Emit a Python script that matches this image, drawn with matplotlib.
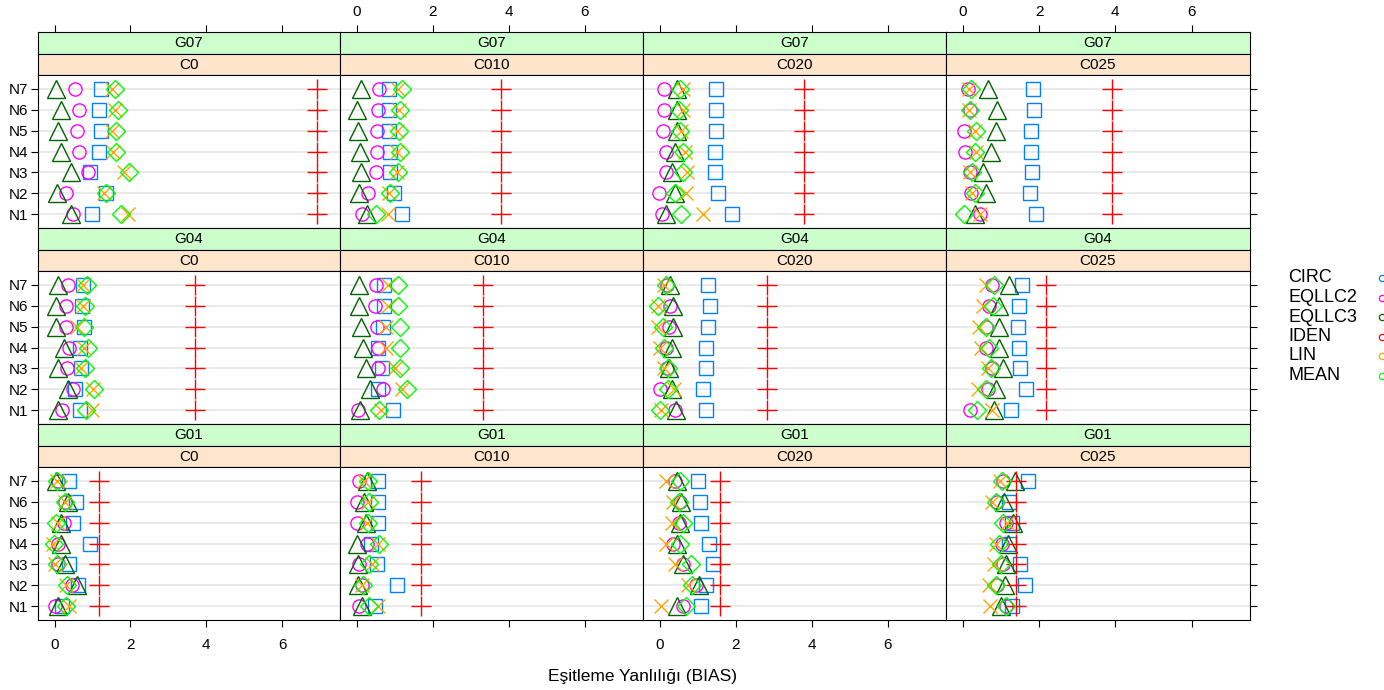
import matplotlib
matplotlib.use("Agg")
import matplotlib.pyplot as plt

plt.rcParams['font.family'] = ['Liberation Sans', 'DejaVu Sans']

# ---------------- data ----------------
n_levels = ["N1", "N2", "N3", "N4", "N5", "N6", "N7"]
c_levels = ["C0", "C010", "C020", "C025"]
g_levels = ["G07", "G04", "G01"]          # top row to bottom row
series = ["CIRC", "EQLLC2", "EQLLC3", "IDEN", "LIN", "MEAN"]
x_ticks = [0, 2, 4, 6]
x_label = "Eşitleme Yanlılığı (BIAS)"

# each list: rows = C0, C010, C020, C025 ; values for N1..N7
CIRC_G07 = [[0.98, 1.36, 0.92, 1.17, 1.23, 1.17, 1.23],
            [1.18, 0.99, 0.88, 0.88, 0.86, 0.86, 0.85],
            [1.91, 1.54, 1.45, 1.45, 1.47, 1.47, 1.47],
            [1.93, 1.77, 1.82, 1.78, 1.78, 1.87, 1.84]]
EQLLC2_G07 = [[0.48, 0.30, 0.89, 0.64, 0.58, 0.64, 0.54],
              [0.15, 0.29, 0.50, 0.53, 0.53, 0.57, 0.59],
              [0.07, -0.02, 0.16, 0.16, 0.09, 0.11, 0.11],
              [0.46, 0.22, 0.19, 0.07, 0.04, 0.18, 0.13]]
EQLLC3_G07 = [[0.44, 0.07, 0.44, 0.16, 0.10, 0.16, 0.04],
              [0.26, 0.06, 0.11, 0.09, 0.03, 0.00, 0.11],
              [0.16, 0.39, 0.33, 0.39, 0.46, 0.46, 0.46],
              [0.33, 0.60, 0.53, 0.75, 0.88, 0.89, 0.66]]
IDEN_G07 = [6.91, 3.79, 3.80, 3.90]
LIN_G07 = [[1.93, 1.30, 1.82, 1.54, 1.51, 1.58, 1.51],
           [0.83, 0.85, 1.05, 1.05, 1.05, 1.10, 1.08],
           [1.14, 0.70, 0.72, 0.66, 0.57, 0.60, 0.60],
           [0.46, 0.25, 0.18, 0.35, 0.31, 0.16, 0.16]]
MEAN_G07 = [[1.75, 1.36, 1.95, 1.63, 1.61, 1.67, 1.58],
            [0.50, 0.88, 1.08, 1.14, 1.10, 1.14, 1.20],
            [0.57, 0.39, 0.61, 0.60, 0.54, 0.51, 0.54],
            [0.02, 0.31, 0.25, 0.33, 0.35, 0.18, 0.22]]

CIRC_G04 = [[0.66, 0.54, 0.70, 0.66, 0.77, 0.73, 0.75],
            [0.96, 0.55, 0.66, 0.55, 0.70, 0.73, 0.73],
            [1.23, 1.14, 1.21, 1.23, 1.27, 1.33, 1.27],
            [1.27, 1.67, 1.49, 1.47, 1.45, 1.47, 1.54]]
EQLLC2_G04 = [[0.19, 0.48, 0.33, 0.39, 0.31, 0.31, 0.35],
              [0.04, 0.68, 0.57, 0.55, 0.53, 0.48, 0.50],
              [0.39, 0.02, 0.19, 0.16, 0.25, 0.28, 0.19],
              [0.18, 0.66, 0.77, 0.61, 0.61, 0.68, 0.77]]
EQLLC3_G04 = [[0.09, 0.35, 0.10, 0.25, 0.04, 0.04, 0.10],
              [0.09, 0.35, 0.24, 0.17, 0.11, 0.06, 0.06],
              [0.42, 0.31, 0.25, 0.31, 0.35, 0.35, 0.26],
              [0.83, 0.86, 1.05, 0.95, 0.96, 0.96, 1.21]]
IDEN_G04 = [3.71, 3.33, 2.83, 2.19]
LIN_G04 = [[0.98, 1.01, 0.70, 0.77, 0.60, 0.75, 0.75],
           [0.64, 1.18, 1.01, 0.76, 0.76, 0.82, 0.82],
           [0.04, 0.37, 0.10, 0.00, -0.04, -0.04, 0.10],
           [0.77, 0.39, 0.66, 0.48, 0.42, 0.54, 0.61]]
MEAN_G04 = [[0.83, 1.05, 0.81, 0.89, 0.77, 0.79, 0.86],
            [0.59, 1.32, 1.14, 1.14, 1.14, 1.08, 1.08],
            [0.02, 0.22, 0.22, 0.10, 0.09, -0.04, 0.16],
            [0.37, 0.61, 0.75, 0.70, 0.60, 0.79, 0.81]]

CIRC_G01 = [[0.19, 0.61, 0.37, 0.92, 0.48, 0.57, 0.39],
            [0.48, 1.05, 0.53, 0.38, 0.55, 0.55, 0.57],
            [1.08, 1.23, 1.40, 1.30, 1.08, 1.05, 1.01],
            [1.30, 1.62, 1.49, 1.21, 1.30, 1.21, 1.71]]
EQLLC2_G01 = [[0.02, 0.46, 0.10, 0.10, 0.25, 0.28, 0.10],
              [0.06, 0.15, 0.06, 0.26, 0.00, 0.00, 0.06],
              [0.61, 0.95, 0.60, 0.35, 0.51, 0.53, 0.39],
              [1.12, 0.89, 1.05, 1.04, 1.12, 0.89, 1.05]]
EQLLC3_G01 = [[0.10, 0.60, 0.28, 0.16, 0.17, 0.35, 0.04],
              [0.15, 0.04, 0.03, 0.00, 0.24, 0.20, 0.26],
              [0.46, 1.04, 0.61, 0.46, 0.53, 0.57, 0.46],
              [1.01, 1.10, 1.12, 1.18, 1.32, 1.07, 1.36]]
IDEN_G01 = [1.18, 1.69, 1.58, 1.40]
LIN_G01 = [[0.37, 0.31, 0.00, -0.04, 0.10, 0.26, 0.07],
           [0.55, 0.13, 0.41, 0.55, 0.26, 0.29, 0.20],
           [0.04, 0.75, 0.39, 0.17, 0.33, 0.35, 0.17],
           [0.72, 0.68, 0.83, 0.88, 1.16, 0.77, 0.98]]
MEAN_G01 = [[0.31, 0.33, 0.07, -0.02, 0.04, 0.28, 0.07],
            [0.31, 0.17, 0.32, 0.59, 0.29, 0.32, 0.29],
            [0.70, 0.86, 0.83, 0.53, 0.60, 0.51, 0.54],
            [1.14, 0.88, 1.01, 0.95, 1.05, 0.88, 1.04]]

data = {
    "G07": {"CIRC": CIRC_G07, "EQLLC2": EQLLC2_G07, "EQLLC3": EQLLC3_G07,
            "IDEN": IDEN_G07, "LIN": LIN_G07, "MEAN": MEAN_G07},
    "G04": {"CIRC": CIRC_G04, "EQLLC2": EQLLC2_G04, "EQLLC3": EQLLC3_G04,
            "IDEN": IDEN_G04, "LIN": LIN_G04, "MEAN": MEAN_G04},
    "G01": {"CIRC": CIRC_G01, "EQLLC2": EQLLC2_G01, "EQLLC3": EQLLC3_G01,
            "IDEN": IDEN_G01, "LIN": LIN_G01, "MEAN": MEAN_G01},
}

# ---------------- style ----------------
colors = {"CIRC": "#0080ff", "EQLLC2": "#ff00ff", "EQLLC3": "#006400",
          "IDEN": "#ff0000", "LIN": "#ffa500", "MEAN": "#00ff00"}
markers = {"CIRC": ("s", 10), "EQLLC2": ("o", 9.5), "EQLLC3": ("^", 13),
           "IDEN": ("+", 15), "LIN": ("x", 10), "MEAN": ("D", 9.5)}
strip_colors = {"outer": "#ccffcc", "inner": "#ffe5cc"}

W, H = 1384, 690
fig = plt.figure(figsize=(W / 100, H / 100), dpi=100)

col_edges = [38, 340, 643, 946, 1250]
block_top = 32
strip_h = 21.5
plot_h = 153
block_h = 2 * strip_h + plot_h
XLIM = (-0.44, 7.53)
YLIM = (0.35, 7.65)
fs = 11


def fax(x0, y0, w, h):
    return fig.add_axes([x0 / W, 1 - (y0 + h) / H, w / W, h / H])


for r, g in enumerate(g_levels):
    top = block_top + r * block_h
    for c, cl in enumerate(c_levels):
        x0 = col_edges[c]
        w = col_edges[c + 1] - col_edges[c]
        # strips
        for k, (lab, key) in enumerate([(g, "outer"), (cl, "inner")]):
            sa = fax(x0, top + k * strip_h, w, strip_h)
            sa.set_facecolor(strip_colors[key])
            sa.set_xticks([]); sa.set_yticks([])
            for sp in sa.spines.values():
                sp.set_linewidth(0.8)
            sa.text(0.5, 0.47, lab, ha="center", va="center", fontsize=fs,
                    transform=sa.transAxes)
        ax = fax(x0, top + 2 * strip_h, w, plot_h)
        ax.set_xlim(*XLIM)
        ax.set_ylim(*YLIM)
        for sp in ax.spines.values():
            sp.set_linewidth(0.8)
        ypos = list(range(1, len(n_levels) + 1))
        for yv in ypos:
            ax.axhline(yv, color="#e6e6e6", lw=1.2, zorder=0)
        d = data[g]
        for s in series:
            vals = d[s][c]
            if s == "IDEN":
                vals = [vals] * len(n_levels)
            m, ms = markers[s]
            ax.plot(vals, ypos, linestyle="none", marker=m, markersize=ms,
                    markerfacecolor="none", markeredgecolor=colors[s],
                    markeredgewidth=1.0, zorder=3, clip_on=False)
        # y axis
        ax.set_yticks(ypos)
        if c == 0:
            ax.set_yticklabels(n_levels, fontsize=fs)
            ax.tick_params(axis="y", left=True, right=False, direction="out",
                           length=5, width=0.8, pad=2)
        elif c == len(c_levels) - 1:
            ax.set_yticklabels([])
            ax.tick_params(axis="y", left=False, right=True, direction="out",
                           length=5, width=0.8)
        else:
            ax.set_yticklabels([])
            ax.tick_params(axis="y", left=False, right=False)
        # x axis
        ax.set_xticks(x_ticks)
        if r == len(g_levels) - 1:
            ax.tick_params(axis="x", bottom=True, top=False, direction="out",
                           length=5, width=0.8, labelsize=fs, pad=8)
            if c % 2 == 1:
                ax.set_xticklabels([])
        else:
            ax.tick_params(axis="x", bottom=False, top=False,
                           labelbottom=False)
        if r == 0:
            sec = ax.secondary_xaxis(1 + 2 * strip_h / plot_h)
            sec.set_xticks(x_ticks)
            sec.tick_params(direction="out", length=5, width=0.8,
                            labelsize=fs, pad=4)
            for sp in sec.spines.values():
                sp.set_visible(False)
            if c % 2 == 0:
                sec.set_xticklabels([])

fig.text(643 / W, 1 - 676 / H, x_label, ha="center", va="center", fontsize=12.5)

# legend (text + small points at the right edge)
leg_y0 = 278
leg_dy = 19.5
for i, s in enumerate(series):
    yy = 1 - (leg_y0 + i * leg_dy) / H
    fig.text(1288 / W, yy, s, ha="left", va="center", fontsize=13)
    fig.lines.append(matplotlib.lines.Line2D(
        [1382 / W], [yy], transform=fig.transFigure, marker="o",
        markersize=4.5, markerfacecolor="none", markeredgecolor=colors[s],
        markeredgewidth=0.9, linestyle="none"))

fig.savefig("out.png", dpi=100)
